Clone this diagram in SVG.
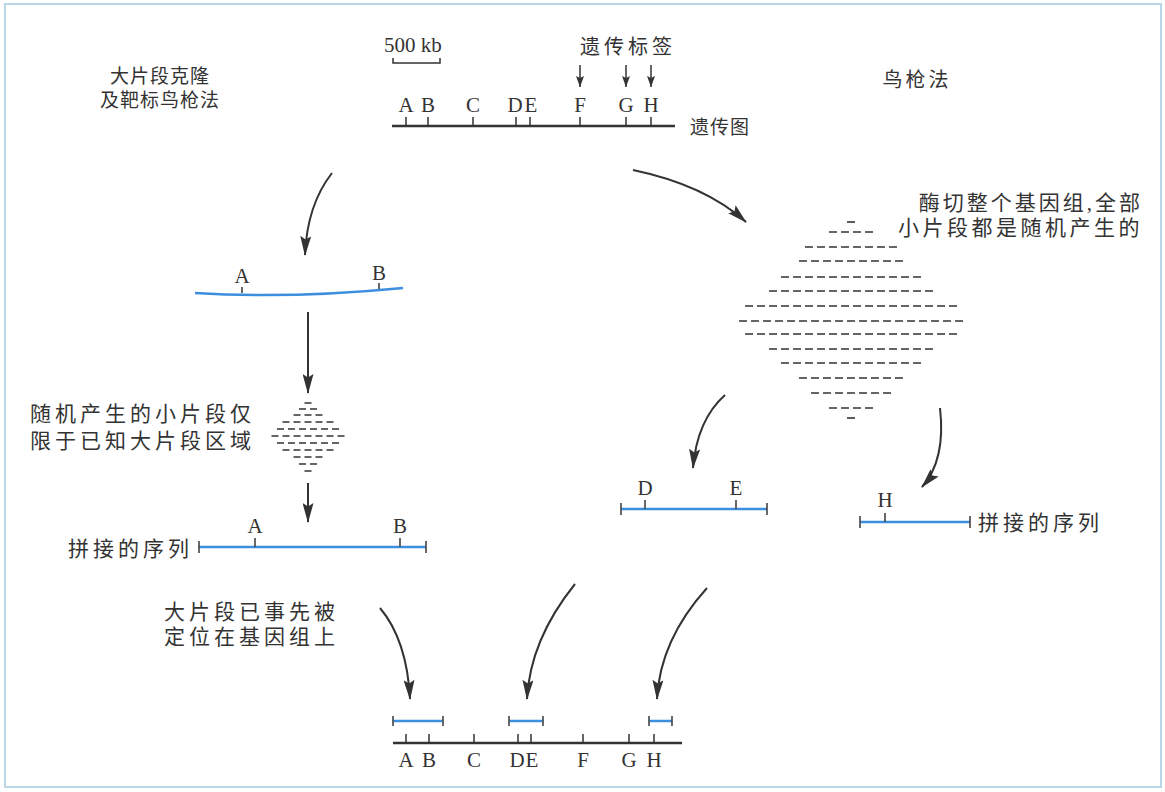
<svg xmlns="http://www.w3.org/2000/svg" width="1165" height="792" viewBox="0 0 1165 792">
<style>
.cn{font-family:"Liberation Serif","Noto Sans CJK SC",serif;fill:#333;font-size:21px;letter-spacing:4px}
.lt{font-family:"Liberation Serif","Noto Sans CJK SC",serif;fill:#333;font-size:21px;text-anchor:middle}
.map{stroke:#333;stroke-width:2.5;fill:none}
.tick{stroke:#333;stroke-width:1.5;fill:none}
.blue{stroke:#3d8ede;stroke-width:2.5;fill:none}
.cap{stroke:#444;stroke-width:1.6;fill:none}
.arr{stroke:#333;stroke-width:2;fill:none;marker-end:url(#ah)}
.sarr{stroke:#333;stroke-width:1.5;fill:none;marker-end:url(#sah)}
.dl{stroke:#333;stroke-width:1.6;stroke-dasharray:8 4}
.ds{stroke:#333;stroke-width:1.5;stroke-dasharray:7 4}
</style>
<defs>
<marker id="ah" viewBox="0 0 20 11" refX="19" refY="5.5" markerWidth="20" markerHeight="11" markerUnits="userSpaceOnUse" orient="auto">
<path d="M0,0 L20,5.5 L0,11 L3.5,5.5 Z" fill="#333"/>
</marker>
<marker id="sah" viewBox="0 0 11 8" refX="11" refY="4" markerWidth="11" markerHeight="8" markerUnits="userSpaceOnUse" orient="auto">
<path d="M0,0 L11,4 L0,8 L2,4 Z" fill="#333"/>
</marker>
</defs>
<rect x="0" y="0" width="1165" height="792" fill="#fff"/>
<rect x="5" y="4" width="1156" height="783" fill="none" stroke="#b9d5e8" stroke-width="2"/>

<g id="genetic-map">
<text x="384" y="52" style="font-family:'Liberation Serif',serif;font-size:21px;fill:#333">500 kb</text>
<path class="tick" d="M393,58 V63 H440 V58"/>
<text class="cn" x="580" y="54" style="font-size:20px">遗传标签</text>
<line class="map" x1="392" y1="126" x2="675" y2="126"/>
<path class="tick" d="M406,117V126 M428,117V126 M473,117V126 M516,117V126 M530,117V126 M580,117V126 M626,117V126 M651,117V126"/>
<text class="lt" x="406" y="112">A</text><text class="lt" x="428" y="112">B</text><text class="lt" x="473" y="112">C</text><text class="lt" x="515" y="112">D</text><text class="lt" x="531" y="112">E</text><text class="lt" x="580" y="112">F</text><text class="lt" x="626" y="112">G</text><text class="lt" x="651" y="112">H</text>
<text class="cn" x="690" y="134" style="font-size:19px;letter-spacing:1px">遗传图</text>
</g>

<g id="heading-left">
<text class="cn" x="160" y="83" text-anchor="middle" style="font-size:19px;letter-spacing:1px">大片段克隆</text>
<text class="cn" x="160" y="107" text-anchor="middle" style="font-size:19px;letter-spacing:1px">及靶标鸟枪法</text>
</g>
<g id="heading-right">
<text class="cn" x="917" y="87" text-anchor="middle" style="font-size:20px;letter-spacing:3px">鸟枪法</text>
</g>

<g id="large-fragment">
<path class="blue" d="M195,293 Q290,299 403,288"/>
<path class="tick" d="M242,287V293 M379,283V289"/>
<text class="lt" x="242" y="283">A</text>
<text class="lt" x="379" y="280">B</text>
</g>

<g id="small-fragments-left">
<text class="cn" x="30" y="421">随机产生的小片段仅</text>
<text class="cn" x="30" y="448">限于已知大片段区域</text>
<line class="ds" x1="304.5" y1="403" x2="311.5" y2="403"/>
<line class="ds" x1="299" y1="409" x2="317" y2="409"/>
<line class="ds" x1="293.5" y1="415" x2="322.5" y2="415"/>
<line class="ds" x1="282.5" y1="422" x2="333.5" y2="422"/>
<line class="ds" x1="277" y1="429" x2="339" y2="429"/>
<line class="ds" x1="271.5" y1="436" x2="344.5" y2="436"/>
<line class="ds" x1="277" y1="443" x2="339" y2="443"/>
<line class="ds" x1="282.5" y1="450" x2="333.5" y2="450"/>
<line class="ds" x1="293.5" y1="457" x2="322.5" y2="457"/>
<line class="ds" x1="299" y1="464" x2="317" y2="464"/>
<line class="ds" x1="304.5" y1="471" x2="311.5" y2="471"/>
</g>

<g id="contig-left">
<text class="cn" x="68" y="556">拼接的序列</text>
<line class="blue" x1="199" y1="547" x2="426" y2="547"/>
<path class="cap" d="M199,541V553 M426,541V553 M255,538V547 M400,538V547"/>
<text class="lt" x="255" y="533">A</text>
<text class="lt" x="400" y="533">B</text>
</g>

<g id="small-fragments-right">
<text class="cn" x="1143" y="210" text-anchor="end" style="letter-spacing:3px">酶切整个基因组,全部</text>
<text class="cn" x="1143" y="235" text-anchor="end" style="letter-spacing:3.5px">小片段都是随机产生的</text>
<line class="dl" x1="847" y1="222" x2="855" y2="222"/>
<line class="dl" x1="829" y1="232" x2="873" y2="232"/>
<line class="dl" x1="805" y1="247" x2="897" y2="247"/>
<line class="dl" x1="799" y1="261" x2="903" y2="261"/>
<line class="dl" x1="781" y1="277" x2="921" y2="277"/>
<line class="dl" x1="769" y1="291" x2="933" y2="291"/>
<line class="dl" x1="745" y1="306" x2="957" y2="306"/>
<line class="dl" x1="739" y1="321" x2="963" y2="321"/>
<line class="dl" x1="745" y1="334" x2="957" y2="334"/>
<line class="dl" x1="769" y1="349" x2="933" y2="349"/>
<line class="dl" x1="781" y1="363" x2="921" y2="363"/>
<line class="dl" x1="799" y1="378" x2="903" y2="378"/>
<line class="dl" x1="811" y1="393" x2="891" y2="393"/>
<line class="dl" x1="829" y1="408" x2="873" y2="408"/>
<line class="dl" x1="847" y1="418" x2="855" y2="418"/>
</g>

<g id="contig-DE">
<line class="blue" x1="621" y1="509" x2="767" y2="509"/>
<path class="cap" d="M621,503V515 M767,503V515 M645,500V509 M736,500V509"/>
<text class="lt" x="645" y="495">D</text>
<text class="lt" x="736" y="495">E</text>
</g>

<g id="contig-H">
<line class="blue" x1="860" y1="522" x2="970" y2="522"/>
<path class="cap" d="M860,516V528 M970,516V528 M885,513V522"/>
<text class="lt" x="885" y="507">H</text>
<text class="cn" x="978" y="530">拼接的序列</text>
</g>

<g id="note-bottom">
<text class="cn" x="164" y="619">大片段已事先被</text>
<text class="cn" x="164" y="644">定位在基因组上</text>
</g>

<g id="final-map">
<line class="blue" x1="393" y1="721" x2="443" y2="721"/>
<line class="blue" x1="509" y1="721" x2="543" y2="721"/>
<line class="blue" x1="649" y1="721" x2="672" y2="721"/>
<path class="cap" d="M393,716V726 M443,716V726 M509,716V726 M543,716V726 M649,716V726 M672,716V726"/>
<line class="map" x1="393" y1="743" x2="682" y2="743"/>
<path class="tick" d="M406,734V743 M429,734V743 M474,734V743 M518,734V743 M531,734V743 M583,734V743 M629,734V743 M654,734V743"/>
<text class="lt" x="406" y="767">A</text><text class="lt" x="429" y="767">B</text><text class="lt" x="474" y="767">C</text><text class="lt" x="517" y="767">D</text><text class="lt" x="532" y="767">E</text><text class="lt" x="583" y="767">F</text><text class="lt" x="629" y="767">G</text><text class="lt" x="654" y="767">H</text>
</g>

<g id="connectors">
<path class="sarr" d="M580,65 V87"/>
<path class="sarr" d="M626,65 V87"/>
<path class="sarr" d="M651,65 V87"/>
<path class="arr" d="M332,173 Q307,205 305,255"/>
<path class="arr" d="M308,312 V393"/>
<path class="arr" d="M308,483 V522"/>
<path class="arr" d="M633,170 Q705,185 746,222"/>
<path class="arr" d="M725,395 Q697,420 693,468"/>
<path class="arr" d="M940,408 Q946,460 922,487"/>
<path class="arr" d="M380,608 Q407,640 410,699"/>
<path class="arr" d="M575,584 Q530,640 527,699"/>
<path class="arr" d="M707,588 Q660,640 657,699"/>
</g>
</svg>
